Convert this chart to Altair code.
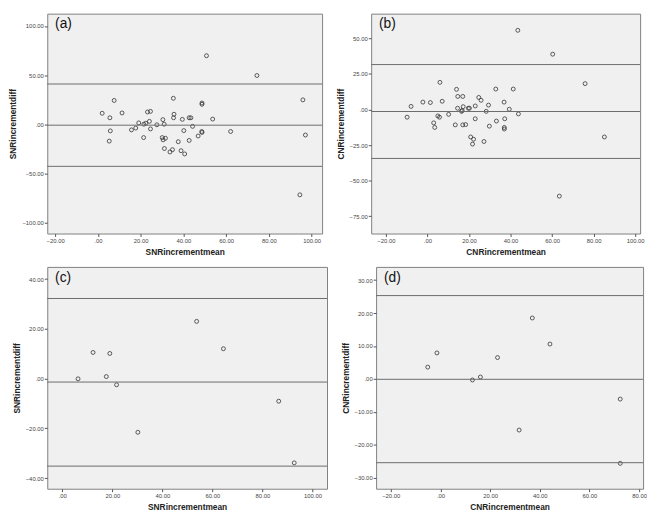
import altair as alt
import pandas as pd

# ---------------- data ----------------
# (a) SNR, group 1
a_mean = [50.8, 74.4, 95.9, 97.1, 94.5, 2.0, 7.6, 5.6, 5.8, 5.3, 11.3, 15.7, 17.7, 19.1, 21.4,
          21.5, 22.4, 23.2, 24.6, 24.1, 24.6, 27.6, 30.4, 31.0, 30.1, 30.5, 31.6, 31.1, 33.7,
          34.9, 35.3, 35.6, 35.4, 37.6, 39.5, 40.2, 38.9, 40.6, 42.7, 43.5, 42.7, 44.3, 46.9,
          48.7, 48.7, 48.6, 48.7, 53.7, 62.1]
a_diff = [69.8, 49.7, 25.0, -10.7, -71.4, 11.4, 24.4, 6.8, -6.5, -16.9, 11.7, -5.5, -3.6, 1.6,
          -13.3, 0.3, 1.3, 12.7, 13.3, 3.2, -4.5, -0.3, 4.9, 0.3, -13.3, -15.6, -14.0, -24.4,
          -27.9, -25.6, 26.6, 10.4, 6.8, -17.5, 5.2, -6.2, -26.6, -29.9, 6.8, 6.8, -16.2, -1.9,
          -11.7, 21.8, 20.5, -7.1, -8.1, 5.5, -7.1]
a_lines = [41.1, -0.7, -42.5]

# (b) CNR, group 1
b_mean = [43.5, 60.3, 75.9, 85.2, 63.5, -9.8, -7.9, -2.2, 1.4, 3.0, 3.5, 5.0, 5.8, 6.0, 7.1,
          10.2, 13.4, 14.0, 14.5, 14.6, 16.4, 16.7, 17.0, 17.2, 17.0, 18.4, 19.7, 20.2, 20.8,
          22.2, 21.7, 23.0, 23.0, 24.7, 25.8, 27.2, 28.3, 29.4, 29.8, 32.9, 33.2, 36.9, 37.2,
          37.0, 37.0, 39.4, 41.3, 43.8]
b_diff = [55.7, 38.9, 18.2, -19.3, -60.9, -5.4, 2.2, 5.2, 4.9, -9.4, -12.6, -4.5, -5.4, 19.1,
          5.8, -3.4, -10.8, 14.2, 0.9, 9.2, -1.3, -0.7, 9.2, 2.0, -10.8, -10.6, 0.9, 0.9, -19.3,
          -20.9, -24.3, 2.5, -6.5, 8.5, 6.5, -22.5, -1.3, 3.1, -11.7, 14.4, -8.1, 5.2, -6.5,
          -12.6, -13.7, 0.2, 14.4, -3.1]
b_lines = [31.6, -1.4, -34.4]

# (c) SNR, group 2
c_mean = [6.3, 12.3, 17.6, 19.0, 21.7, 30.2, 53.7, 64.4, 86.5, 92.7]
c_diff = [-0.1, 10.5, 0.8, 10.1, -2.5, -21.6, 23.0, 12.0, -9.1, -33.9]
c_lines = [32.2, -1.4, -35.2]

# (d) CNR, group 2
d_mean = [-5.1, -1.4, 12.9, 16.1, 23.0, 31.7, 37.0, 44.1, 72.4, 72.4]
d_diff = [3.6, 7.9, -0.3, 0.6, 6.5, -15.5, 18.5, 10.6, -6.1, -25.6]
d_lines = [25.3, -0.1, -25.4]

LABEL_EXPR = "datum.value == 0 ? '.00' : format(datum.value, '.2f')"
FONT = "Liberation Sans"


def panel(xs, ys, lines, xdom, ydom, xticks, yticks, xtitle, ytitle, tag, w, h):
    df = pd.DataFrame({"m": xs, "d": ys})
    xsc = alt.Scale(domain=xdom, nice=False, zero=False)
    ysc = alt.Scale(domain=ydom, nice=False, zero=False)
    yaxis = alt.Axis(values=yticks, labelExpr=LABEL_EXPR, title=ytitle)
    pts = alt.Chart(df).mark_point(
        shape="circle", filled=False, size=16, color="#333333", strokeWidth=0.8,
        opacity=1, clip=True
    ).encode(
        x=alt.X("m:Q", scale=xsc,
                axis=alt.Axis(values=xticks, labelExpr=LABEL_EXPR, title=xtitle)),
        y=alt.Y("d:Q", scale=ysc, axis=yaxis),
    )
    rules = alt.Chart(pd.DataFrame({"v": lines})).mark_rule(
        color="#6a6a6a", strokeWidth=1
    ).encode(y=alt.Y("v:Q", scale=ysc, axis=yaxis))
    txt = alt.Chart(pd.DataFrame({"t": [tag]})).mark_text(
        align="left", baseline="top", fontSize=14, font=FONT, color="#111111"
    ).encode(x=alt.value(8), y=alt.value(4), text="t:N")
    return alt.layer(pts, rules, txt).properties(width=w, height=h)


pa = panel(a_mean, a_diff, a_lines, [-23.7, 104.9], [-110.7, 112.5],
           [-20, 0, 20, 40, 60, 80, 100], [-100, -50, 0, 50, 100],
           "SNRincrementmean", "SNRincrementdiff", "(a)", 280, 224)
pb = panel(b_mean, b_diff, b_lines, [-27.1, 102.4], [-87.2, 67.4],
           [-20, 0, 20, 40, 60, 80, 100], [-75, -50, -25, 0, 25, 50],
           "CNRincrementmean", "CNRincrementdiff", "(b)", 274, 224)
pc = panel(c_mean, c_diff, c_lines, [-6.0, 105.8], [-44.3, 44.9],
           [0, 20, 40, 60, 80, 100], [-40, -20, 0, 20, 40],
           "SNRincrementmean", "SNRincrementdiff", "(c)", 285, 226)
pd_ = panel(d_mean, d_diff, d_lines, [-25.9, 81.6], [-33.3, 34.0],
            [-20, 0, 20, 40, 60, 80], [-30, -20, -10, 0, 10, 20, 30],
            "CNRincrementmean", "CNRincrementdiff", "(d)", 272, 226)

top = alt.hconcat(pa, pb, spacing=12)
bottom = alt.hconcat(pc, pd_, spacing=12)

chart = alt.vconcat(top, bottom, spacing=10).properties(
    padding={"left": 0, "top": 0, "right": 0, "bottom": 0}, background="white"
).configure_view(
    fill="#f0f0f0", stroke="#808080", strokeWidth=1
).configure_axis(
    domain=False, grid=False, tickColor="#555555", tickSize=3, tickWidth=1,
    labelColor="#444444", labelFont=FONT, labelFontSize=6, labelPadding=1,
    titleFont=FONT, titleFontSize=8.5, titleFontWeight="bold", titleColor="#222222",
    titlePadding=4
)

chart.save("out.html", embed_options={"renderer": "svg", "actions": False})
